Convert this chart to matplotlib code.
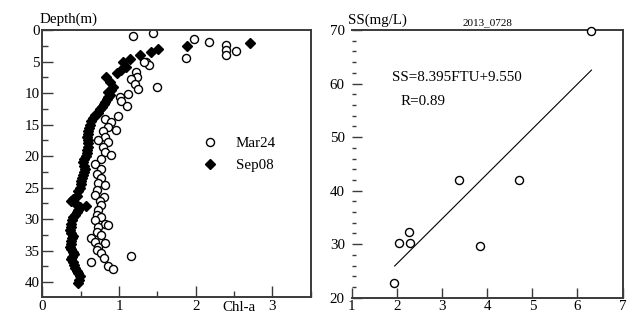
import matplotlib
matplotlib.use('Agg')
import matplotlib.pyplot as plt
import matplotlib.ticker as ticker

plt.rcParams['font.family'] = ['Liberation Serif', 'DejaVu Serif']
plt.rcParams['font.size'] = 10.8

# left panel: Chl-a profiles (x = Chl-a, y = depth in m)
mar24_chl = [1.18, 1.45, 1.98, 2.17, 1.88, 2.39, 2.39, 2.39, 2.52, 1.50,
             1.35, 1.39, 1.32, 1.22, 1.23, 1.16, 1.21, 1.25, 1.12, 1.01, 1.03, 1.10,
             0.99, 0.82, 0.90, 0.86, 0.96, 0.79, 0.82, 0.73, 0.86, 0.79, 0.82, 0.90,
             0.77, 0.69, 0.77, 0.71, 0.77, 0.73, 0.82, 0.71, 0.69, 0.80, 0.75, 0.77,
             0.73, 0.71, 0.77, 0.69, 0.82, 0.73, 0.86, 0.71, 0.77, 0.64, 0.69, 0.82,
             0.73, 0.71, 0.77, 1.16, 0.80, 0.64, 0.86, 0.92]
mar24_depth = [1.0, 0.45, 1.5, 1.9, 4.5, 2.45, 3.1, 3.9, 3.4, 9.05,
               5.1, 5.6, 5.1, 6.7, 7.5, 7.7, 8.5, 9.4, 10.1, 10.6, 11.3, 12.1,
               13.6, 14.05, 14.6, 15.4, 15.9, 16.1, 17.0, 17.5, 17.8, 18.5, 19.3, 19.9,
               20.4, 21.2, 22.0, 22.8, 23.5, 24.3, 24.6, 25.4, 26.2, 26.5, 27.2, 27.8,
               28.6, 29.4, 29.6, 30.1, 30.7, 31.2, 30.9, 32.0, 32.5, 33.0, 33.6, 33.8,
               34.4, 34.9, 35.4, 35.9, 36.2, 36.8, 37.5, 37.9]

sep08_chl = [2.71, 1.89, 1.51, 1.42, 1.28, 1.14, 1.05, 1.09, 1.03, 0.98,
             0.83, 0.88, 0.92, 0.90, 0.86, 0.88, 0.86, 0.84, 0.82, 0.80, 0.78, 0.75,
             0.73, 0.69, 0.66, 0.64, 0.62, 0.61, 0.60, 0.59, 0.58, 0.59, 0.60, 0.59,
             0.58, 0.58, 0.57, 0.55, 0.53, 0.55, 0.56, 0.54, 0.53, 0.52, 0.51, 0.50,
             0.49, 0.47, 0.45, 0.40, 0.38, 0.43, 0.49, 0.57, 0.47, 0.45, 0.42, 0.40,
             0.39, 0.38, 0.37, 0.36, 0.38, 0.40, 0.39, 0.38, 0.37, 0.36, 0.37, 0.40,
             0.41, 0.39, 0.38, 0.40, 0.41, 0.43, 0.45, 0.47, 0.49, 0.48, 0.47]
sep08_depth = [2.0, 2.6, 3.0, 3.5, 4.0, 4.6, 5.0, 5.9, 6.4, 6.9,
               7.5, 8.3, 9.05, 9.5, 9.8, 10.3, 10.6, 11.0, 11.4, 11.8, 12.2, 12.6,
               13.1, 13.5, 14.0, 14.5, 15.0, 15.5, 16.0, 16.5, 17.0, 17.5, 18.0, 18.5,
               19.0, 19.5, 20.0, 20.5, 21.0, 21.5, 22.0, 22.5, 23.0, 23.5, 24.0, 24.5,
               25.0, 25.5, 26.3, 26.8, 27.1, 27.5, 28.0, 27.9, 28.5, 28.9, 29.3, 29.7,
               30.2, 30.7, 31.2, 31.7, 32.2, 32.6, 33.0, 33.5, 34.0, 34.4, 34.8, 35.2,
               35.6, 36.0, 36.4, 36.8, 37.2, 37.7, 38.2, 38.6, 39.1, 39.6, 40.1]

# right panel: SS vs FTU
ftu = [6.31, 3.37, 4.71, 2.26, 2.05, 2.28, 3.83, 1.94]
ss = [69.9, 42.0, 42.0, 32.3, 30.3, 30.3, 29.7, 22.8]
slope, intercept = 8.395, 9.550
fit_x = [1.95, 6.31]
fit_y = [slope * x + intercept for x in fit_x]

edge = '#3a3a3a'

fig = plt.figure(figsize=(6.27, 3.13), dpi=100)

# ---- left panel
ax1 = fig.add_axes([0.0675, 0.0502, 0.428, 0.854])
ax1.plot(mar24_chl, mar24_depth, 'o', ms=5.8, mfc='white', mec='black', mew=1.0,
         ls='none', label='Mar24')
ax1.plot(sep08_chl, sep08_depth, 'D', ms=5.3, mfc='black', mec='black',
         ls='none', label='Sep08')
ax1.set_xlim(0, 3.5)
ax1.xaxis.set_major_locator(ticker.MultipleLocator(1))
ax1.xaxis.set_minor_locator(ticker.MultipleLocator(0.5))
ax1.yaxis.set_minor_locator(ticker.MultipleLocator(2.5))
ax1.set_yticks(range(0, 45, 5))
ax1.set_ylim(42.4, 0)
ax1.tick_params(which='major', direction='in', length=8, width=1, color=edge, pad=2)
ax1.tick_params(which='minor', direction='in', length=4, width=1, color=edge)
for s in ax1.spines.values():
    s.set_color(edge)
    s.set_linewidth(1.4)
ax1.text(-0.01, 1.015, 'Depth(m)', transform=ax1.transAxes, ha='left', va='bottom')
ax1.text(2.57, -0.015, 'Chl-a', transform=ax1.get_xaxis_transform(), ha='center', va='top')
ax1.legend(loc='upper left', bbox_to_anchor=(0.598, 0.6), frameon=False,
           handlelength=1.0, handletextpad=1.2, labelspacing=0.55, borderpad=0,
           borderaxespad=0)

# ---- right panel
ax2 = fig.add_axes([0.561, 0.0489, 0.432, 0.855])
ax2.plot(ftu, ss, 'o', ms=5.8, mfc='white', mec='black', mew=1.0, ls='none',
         clip_on=False, zorder=5)
ax2.plot(fit_x, fit_y, color='black', lw=0.8)
ax2.set_xlim(1, 7)
ax2.set_ylim(20, 70)
ax2.xaxis.set_major_locator(ticker.MultipleLocator(1))
ax2.yaxis.set_major_locator(ticker.MultipleLocator(10))
ax2.yaxis.set_minor_locator(ticker.MultipleLocator(2))
ax2.tick_params(axis='x', which='major', direction='in', length=7, width=1, color=edge, pad=2)
ax2.tick_params(axis='y', which='major', direction='in', length=7, width=1, color=edge, pad=5)
ax2.tick_params(axis='y', which='minor', direction='in', length=3, width=1, color=edge)
ax2.spines['left'].set_visible(False)
for k in ['top', 'right', 'bottom']:
    ax2.spines[k].set_color(edge)
    ax2.spines[k].set_linewidth(1.4)
ax2.text(-0.013, 1.01, 'SS(mg/L)', transform=ax2.transAxes, ha='left', va='bottom')
ax2.text(0.5, 1.01, '2013_0728', transform=ax2.transAxes, ha='center', va='bottom',
         fontsize=8)
ax2.text(1.89, 61.2, 'SS=8.395FTU+9.550', ha='left', va='center')
ax2.text(2.09, 56.6, 'R=0.89', ha='left', va='center')

fig.savefig('out.png', dpi=100)
